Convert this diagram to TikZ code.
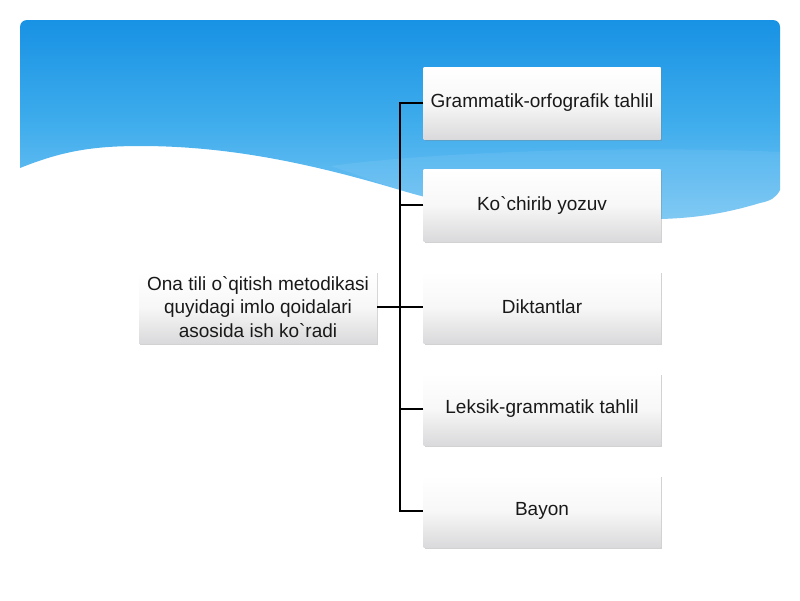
\documentclass[tikz,border=0pt]{standalone}
\usepackage{fontspec}
\setmainfont{Liberation Sans}
\usetikzlibrary{shadows,calc}
\definecolor{skytop}{RGB}{24,146,228}
\definecolor{skymid}{RGB}{62,172,236}
\definecolor{skybot}{RGB}{120,198,244}
\definecolor{boxbot}{RGB}{218,218,220}
\definecolor{txt}{RGB}{25,25,25}
\newcommand{\gq}{\textasciigrave}
\tikzset{
  stepbox/.style={rectangle, minimum width=237pt, minimum height=72pt, inner sep=2pt,
    top color=white, bottom color=boxbot, middle color=gray!6,
    drop shadow={opacity=0.35, shadow xshift=1pt, shadow yshift=-1.5pt},
    font=\fontsize{19pt}{23.5pt}\selectfont, text=txt, align=center},
  link/.style={draw=black, line width=1.4pt}
}
\begin{document}
\begin{tikzpicture}[x=1pt,y=-1pt]
\useasboundingbox (0,0) rectangle (800,600);
\fill[white] (0,0) rectangle (800,600);
% sky header with wave
\shade[top color=skytop, bottom color=skybot, middle color=skymid]
  (20,168) -- (20,27) arc[start angle=180, end angle=270, radius=7]
  -- (773,20) arc[start angle=270, end angle=360, radius=7]
  -- (780,190) .. controls (776,198) and (770,201) .. (760,203)
  .. controls (730,212) and (700,218) .. (660,219)
  .. controls (560,222) and (480,214) .. (400,190)
  .. controls (300,160) and (220,146) .. (140,146)
  .. controls (90,146) and (60,152) .. (20,168) -- cycle;
% faint light band
\fill[white, opacity=0.07]
  (330,166) .. controls (450,150) and (650,146) .. (780,152)
  -- (780,190) .. controls (776,198) and (770,201) .. (760,203)
  .. controls (730,212) and (700,218) .. (660,219)
  .. controls (560,222) and (480,214) .. (400,190)
  .. controls (370,180) and (350,172) .. (330,166) -- cycle;
% nodes
\node[stepbox, minimum width=238pt] (L) at (258,307) {Ona tili o\gq qitish metodikasi\\quyidagi imlo qoidalari\\asosida ish ko\gq radi};
\node[stepbox] (R1) at (542,103) {Grammatik-orfografik tahlil};
\node[stepbox] (R2) at (542,205) {Ko\gq chirib yozuv};
\node[stepbox] (R3) at (542,307) {Diktantlar};
\node[stepbox] (R4) at (542,409) {Leksik-grammatik tahlil};
\node[stepbox] (R5) at (542,511) {Bayon};
\coordinate (J) at (400,307);
% connectors
\draw[link] (L.east) -- (R3.west);
\draw[link] (R1.west) -| (J) |- (R5.west);
\draw[link] (R2.west) -| (J);
\draw[link] (R4.west) -| (J);
\end{tikzpicture}
\end{document}
